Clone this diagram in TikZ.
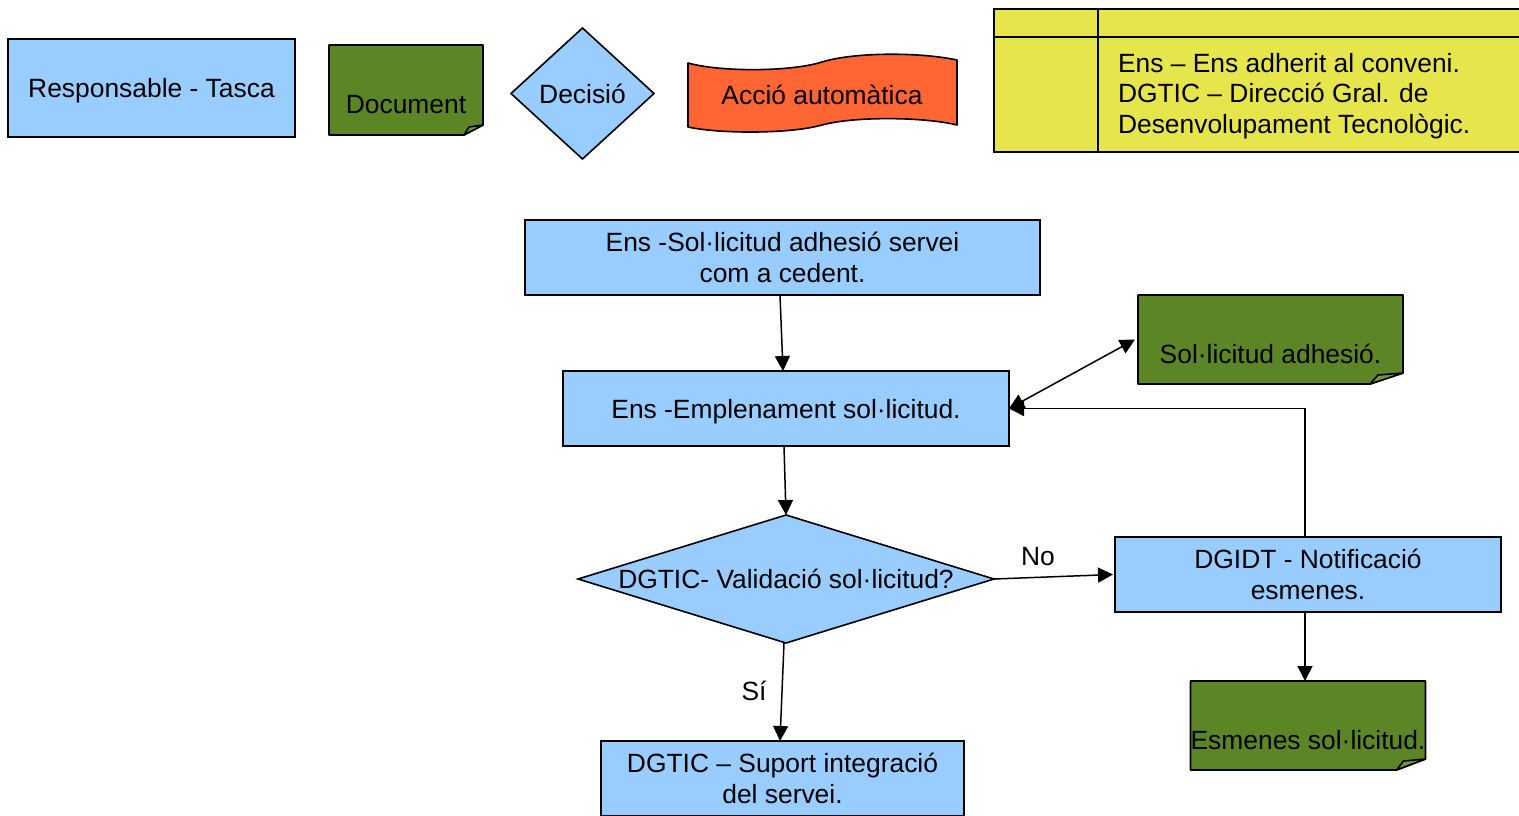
\documentclass[tikz,border=0pt]{standalone}
\usepackage{fontspec}
\setmainfont{Liberation Sans}
\usetikzlibrary{shapes.geometric,arrows.meta}
\definecolor{boxblue}{RGB}{153,204,255}
\definecolor{docgreen}{RGB}{92,133,38}
\definecolor{foldgreen}{RGB}{112,152,58}
\definecolor{waveorange}{RGB}{255,102,51}
\definecolor{legyellow}{RGB}{230,230,76}
\begin{document}
\begin{tikzpicture}[x=1pt,y=-1pt,
  every node/.style={font=\fontsize{26.4}{30.5}\selectfont, inner sep=0pt, outer sep=0pt},
  taskbox/.style={draw=black, line width=1.6pt, fill=boxblue, rectangle, align=center},
  decbox/.style={draw=black, line width=1.6pt, fill=boxblue, diamond},
  docph/.style={rectangle, draw=none},
  docline/.style={draw=black, line width=1.6pt, fill=docgreen, line join=round},
  txt/.style={align=center},
  oneline/.style={text height=19pt, text depth=0pt},
  conn/.style={line width=1.5pt, -{Triangle[length=15pt,width=15pt]}},
  dconn/.style={line width=1.5pt, {Triangle[length=15pt,width=15pt]}-{Triangle[length=15pt,width=15pt]}},
]
\useasboundingbox (0,0) rectangle (1519,815);
\fill[white] (0,0) rectangle (1519,815);

% ---- legend ----
\node[taskbox, oneline, minimum width=287pt, minimum height=98pt] (leg1) at (151.5,88) {Responsable - Tasca};

\node[docph, minimum width=154pt, minimum height=90pt] (leg2) at (406,90) {};
\filldraw[docline] (leg2.north west) -- (leg2.north east) -- ([yshift=10pt]leg2.south east)
  -- ([xshift=-19pt]leg2.south east) -- (leg2.south west) -- cycle;
\filldraw[docline, fill=foldgreen] ([xshift=-19pt]leg2.south east) -- ([xshift=-14pt,yshift=8pt]leg2.south east)
  -- ([yshift=10pt]leg2.south east) -- cycle;
\node[txt, oneline] (leg2t) at ([yshift=-14pt]leg2.center) {Document};

\node[decbox, oneline, minimum width=143pt, minimum height=131pt] (leg3) at (582.5,93.5) {Decisió};

\node[docph, minimum width=269pt, minimum height=80pt] (leg4) at (822.5,95) {};
\filldraw[docline, fill=waveorange] (688,63) .. controls (720,72) and (790,72) .. (822,62)
  .. controls (854,52) and (920,52) .. (957,60) -- (957,125)
  .. controls (925,117) and (855,116) .. (822,125)
  .. controls (790,134) and (720,134) .. (688,127) -- cycle;
\node[txt, oneline] (leg4t) at (822,95) {Acció automàtica};

\filldraw[line width=1.6pt, fill=legyellow] (994,9) rectangle (1530,152);
\draw[line width=1.6pt] (1098,9) -- (1098,152);
\draw[line width=1.6pt] (994,37) -- (1530,37);
\node[anchor=west, align=left] (legtxt) at (1118,96) {Ens – Ens adherit al conveni.\\DGTIC – Direcció Gral. de\\Desenvolupament Tecnològic.};

% ---- flow ----
\node[taskbox, minimum width=515pt, minimum height=75pt] (A) at (782.5,257.5) {Ens -Sol·licitud adhesió servei\\com a cedent.};
\node[taskbox, oneline, minimum width=446pt, minimum height=75pt] (B) at (786,408.5) {Ens -Emplenament sol·licitud.};
\node[decbox, minimum width=416pt, minimum height=128pt] (d) at (786,579) {};
\node[txt, oneline] (dt) at (d.center) {DGTIC- Validació sol·licitud?};
\node[taskbox, minimum width=386pt, minimum height=75pt] (C) at (1308,574.5) {DGIDT - Notificació\\esmenes.};
\node[taskbox, minimum width=363pt, minimum height=75pt] (D) at (782.5,778.5) {DGTIC – Suport integració\\del servei.};

\node[docph, minimum width=265pt, minimum height=89pt] (s1) at (1270.5,339.5) {};
\filldraw[docline] (s1.north west) -- (s1.north east) -- ([yshift=11pt]s1.south east)
  -- ([xshift=-33pt]s1.south east) -- (s1.south west) -- cycle;
\filldraw[docline, fill=foldgreen] ([xshift=-33pt]s1.south east) -- ([xshift=-25pt,yshift=9pt]s1.south east)
  -- ([yshift=11pt]s1.south east) -- cycle;
\node[txt, oneline] (s1t) at ([yshift=-14.5pt]s1.center) {Sol·licitud adhesió.};

\node[docph, minimum width=235pt, minimum height=89pt] (e1) at (1308,725.5) {};
\filldraw[docline] (e1.north west) -- (e1.north east) -- ([yshift=11pt]e1.south east)
  -- ([xshift=-29pt]e1.south east) -- (e1.south west) -- cycle;
\filldraw[docline, fill=foldgreen] ([xshift=-29pt]e1.south east) -- ([xshift=-22pt,yshift=9pt]e1.south east)
  -- ([yshift=11pt]e1.south east) -- cycle;
\node[txt, oneline] (e1t) at ([yshift=-14.5pt]e1.center) {Esmenes sol·licitud.};

% ---- connectors ----
\draw[conn] ([xshift=-2.5pt]A.south) -- ([xshift=-3pt]B.north);
\draw[conn] ([xshift=-2pt]B.south) -- (d.north);
\draw[conn] (d.east) -- ([xshift=-2pt]C.west);
\draw[conn] ([xshift=-3pt]C.north) |- (B.east);
\draw[dconn] (B.east) -- ([xshift=-3pt]s1.west);
\draw[conn] ([xshift=-3pt]C.south) -- ([xshift=-3pt]e1.north);
\draw[conn] ([xshift=-2pt]d.south) -- ([xshift=-2.5pt]D.north);
\node[oneline] (no) at (1038,556) {No};
\node[oneline] (si) at (754,691) {Sí};
\end{tikzpicture}
\end{document}
